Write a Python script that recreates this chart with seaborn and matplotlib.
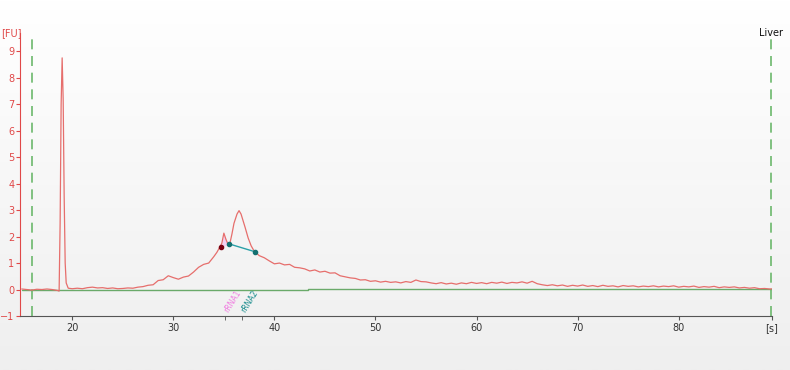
import numpy as np
import pandas as pd
import matplotlib
matplotlib.use("Agg")
import matplotlib.pyplot as plt
import seaborn as sns
from matplotlib.colors import LinearSegmentedColormap

# ---- data ----
# lower marker region
t_marker = [15.0, 15.5, 16.0, 16.5, 17.0, 17.5, 18.0, 18.5, 18.7, 18.8, 18.9, 19.0, 19.1,
            19.2, 19.3, 19.4, 19.6]
fu_marker = [0.02, 0.0, -0.02, 0.01, 0.0, 0.02, 0.0, -0.03, -0.06, 2.5, 7.0, 8.75, 7.2,
             3.5, 1.0, 0.25, 0.05]
# rise and rRNA region
t_rrna = [20.0, 20.5, 21.0, 21.5, 22.0, 22.5, 23.0, 23.5, 24.0, 24.5, 25.0, 25.5, 26.0,
          26.5, 27.0, 27.5, 28.0, 28.5, 29.0, 29.5, 30.0, 30.5, 31.0, 31.5, 32.0, 32.5,
          33.0, 33.5, 34.0, 34.3, 34.6, 34.8, 35.0, 35.2, 35.4, 35.6, 35.8, 36.0, 36.3,
          36.5, 36.7, 36.9, 37.1, 37.4, 37.7]
fu_rrna = [0.03, 0.05, 0.03, 0.07, 0.09, 0.06, 0.07, 0.04, 0.06, 0.03, 0.04, 0.06, 0.05,
           0.09, 0.11, 0.16, 0.18, 0.34, 0.37, 0.52, 0.45, 0.39, 0.47, 0.51, 0.66, 0.84,
           0.95, 1.0, 1.24, 1.4, 1.6, 1.75, 2.13, 1.9, 1.72, 1.75, 2.1, 2.5, 2.85,
           2.98, 2.85, 2.6, 2.35, 1.95, 1.65]
# decaying tail
t_tail = [38.0, 38.5, 39.0, 39.5, 40.0, 40.5, 41.0, 41.5, 42.0, 42.5, 43.0, 43.5, 44.0,
          44.5, 45.0, 45.5, 46.0, 46.5, 47.0, 47.5, 48.0, 48.5, 49.0, 49.5, 50.0, 50.5,
          51.0, 51.5, 52.0, 52.5, 53.0, 53.5, 54.0, 54.5, 55.0, 55.5, 56.0, 56.5, 57.0,
          57.5, 58.0, 58.5, 59.0, 59.5, 60.0, 60.5, 61.0, 61.5, 62.0, 62.5, 63.0, 63.5,
          64.0, 64.5, 65.0, 65.5, 66.0, 66.5, 67.0, 67.5, 68.0, 68.5, 69.0, 69.5, 70.0,
          70.5, 71.0, 71.5, 72.0, 72.5, 73.0, 73.5, 74.0, 74.5, 75.0, 75.5, 76.0, 76.5,
          77.0, 77.5, 78.0, 78.5, 79.0, 79.5, 80.0, 80.5, 81.0, 81.5, 82.0, 82.5, 83.0,
          83.5, 84.0, 84.5, 85.0, 85.5, 86.0, 86.5, 87.0, 87.5, 88.0, 88.5, 89.0, 89.5]
fu_tail = [1.45, 1.28, 1.2, 1.08, 0.97, 1.0, 0.93, 0.95, 0.84, 0.82, 0.78, 0.70, 0.74,
           0.66, 0.69, 0.62, 0.63, 0.52, 0.48, 0.44, 0.42, 0.36, 0.37, 0.31, 0.33, 0.28,
           0.31, 0.27, 0.29, 0.25, 0.3, 0.27, 0.36, 0.3, 0.29, 0.25, 0.22, 0.26, 0.21,
           0.24, 0.2, 0.25, 0.22, 0.27, 0.23, 0.26, 0.22, 0.27, 0.24, 0.28, 0.23, 0.27,
           0.25, 0.29, 0.24, 0.31, 0.22, 0.18, 0.15, 0.18, 0.14, 0.17, 0.12, 0.16, 0.13,
           0.17, 0.12, 0.15, 0.11, 0.16, 0.12, 0.14, 0.1, 0.15, 0.12, 0.14, 0.1, 0.13,
           0.11, 0.14, 0.1, 0.13, 0.11, 0.14, 0.09, 0.12, 0.1, 0.13, 0.08, 0.11, 0.09,
           0.12, 0.07, 0.1, 0.08, 0.1, 0.06, 0.08, 0.05, 0.07, 0.03, 0.04, 0.02, 0.03]

baseline_x = [15.0, 43.3, 43.3, 89.5]
baseline_y = [0.0, 0.0, 0.02, 0.02]

region_start = [34.7, 1.6]     # dark red marker
region_x = [35.55, 38.05]      # teal markers
region_y = [1.72, 1.43]

marker_lines = [16.0, 89.1]
peak_names = ["rRNA1", "rRNA2"]
peak_pos = [35.1, 36.8]
peak_colors = ["#f07ae0", "#138a8a"]

xticks = [20, 30, 40, 50, 60, 70, 80, 89.23]
xtick_labels = ["20", "30", "40", "50", "60", "70", "80", "[s]"]
yticks = [-1, 0, 1, 2, 3, 4, 5, 6, 7, 8, 9]

time_s = t_marker + t_rrna + t_tail
fluor_fu = fu_marker + fu_rrna + fu_tail
assert len(time_s) == len(fluor_fu)

sns.set_style("ticks")
plt.rcParams["font.family"] = ["DejaVu Sans"]

fig = plt.figure(figsize=(7.9, 3.7), dpi=100)

# background gradient
bg = fig.add_axes([0, 0, 1, 1], zorder=-5)
grad = np.linspace(1.0, 0.0, 256).reshape(-1, 1)
cmap = LinearSegmentedColormap.from_list("bgc", ["#efefef", "#ffffff"])
bg.imshow(grad, aspect="auto", cmap=cmap, extent=[0, 1, 0, 1], origin="upper")
bg.axis("off")

ax = fig.add_axes([20 / 790, 54 / 370, (772 - 20) / 790, (337 - 54) / 370])
ax.set_facecolor("none")

df = pd.DataFrame({"t": time_s, "fu": fluor_fu})

# baseline
ax.plot(baseline_x, baseline_y, color="#6aaa6a", lw=1.0, zorder=2)

# marker dashed lines
for xm in marker_lines:
    ax.axvline(xm, color="#6cb86c", lw=1.2, ls=(0, (6, 4)), zorder=1)

# pink fill for rRNA1 region
t_arr = np.array(time_s)
f_arr = np.array(fluor_fu)
msk = (t_arr >= region_start[0]) & (t_arr <= region_x[0])
ax.fill_between(t_arr[msk], np.interp(t_arr[msk], [region_start[0], region_x[0]],
                                      [region_start[1], region_y[0]]),
                f_arr[msk], color="#f5b8ee", alpha=0.6, lw=0, zorder=2)

sns.lineplot(data=df, x="t", y="fu", ax=ax, color="#e66e6c", lw=0.9,
             estimator=None, sort=False, zorder=3)

ax.plot(region_x, region_y, color="#2aa0a8", lw=1.0, zorder=4)
ax.scatter(region_x, region_y, s=9, color="#137070", zorder=5)
ax.scatter([region_start[0]], [region_start[1]], s=9, color="#7a0010", zorder=5)

for name, pos, col in zip(peak_names, peak_pos, peak_colors):
    ax.text(pos + 0.5, -0.93, name, rotation=58, color=col, fontsize=5.5,
            ha="left", va="bottom", rotation_mode="anchor")

ax.set_xlim(14.83, 89.23)
ax.set_ylim(-1, 9.69)
ax.set_xticks(xticks)
ax.set_xticklabels(xtick_labels)
ax.set_xticks(peak_pos, minor=True)
ax.set_yticks(yticks)
ax.set_xlabel("")
ax.set_ylabel("")

for s in ["top", "right"]:
    ax.spines[s].set_visible(False)
ax.spines["left"].set_color("#e04848")
ax.spines["bottom"].set_color("#555555")
ax.tick_params(axis="y", colors="#e04848", labelsize=7, length=3, pad=1)
ax.tick_params(axis="x", colors="#555555", labelcolor="#333333", labelsize=7, length=3, pad=2)
ax.tick_params(axis="x", which="minor", length=3, colors="#555555")

fig.text(1 / 790, 1 - 33 / 370, "[FU]", color="#e04848", fontsize=7, ha="left", va="center")
ax.text(89.1, 9.69, "Liver", color="#111111", fontsize=7, ha="center", va="center")

fig.savefig("out.png", dpi=100)
